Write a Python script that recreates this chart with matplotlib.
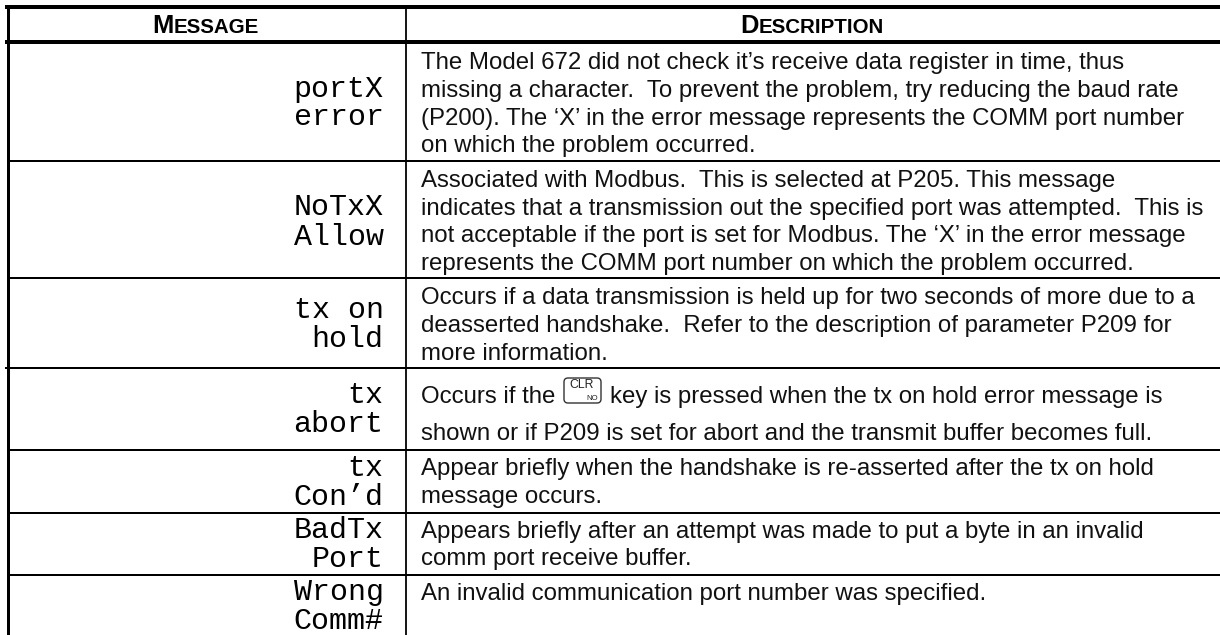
import matplotlib
matplotlib.use("Agg")
import matplotlib.pyplot as plt
from matplotlib.patches import FancyBboxPatch

BODY = "Liberation Sans"
MONO = "Liberation Mono"

messages = [
    ["portX", "error"], ["NoTxX", "Allow"], ["tx on", "hold"], ["tx", "abort"],
    ["tx", "Con\u2019d"], ["BadTx", "Port"], ["Wrong", "Comm#"],
]
message_baselines = [[97, 125], [215, 245], [318, 347], [403, 432], [476, 505], [538, 567], [600, 629]]
descriptions = [
    ["The Model 672 did not check it\u2019s receive data register in time, thus",
     "missing a character.  To prevent the problem, try reducing the baud rate",
     "(P200). The \u2018X\u2019 in the error message represents the COMM port number",
     "on which the problem occurred."],
    ["Associated with Modbus.  This is selected at P205. This message",
     "indicates that a transmission out the specified port was attempted.  This is",
     "not acceptable if the port is set for Modbus. The \u2018X\u2019 in the error message",
     "represents the COMM port number on which the problem occurred."],
    ["Occurs if a data transmission is held up for two seconds of more due to a",
     "deasserted handshake.  Refer to the description of parameter P209 for",
     "more information."],
    ["Occurs if the", "shown or if P209 is set for abort and the transmit buffer becomes full."],
    ["Appear briefly when the handshake is re-asserted after the tx on hold",
     "message occurs."],
    ["Appears briefly after an attempt was made to put a byte in an invalid",
     "comm port receive buffer."],
    ["An invalid communication port number was specified."],
]
description_baselines = [[69, 97, 125, 152], [187, 215, 242, 270], [304, 332, 360],
                         [403, 440], [475, 503], [538, 565], [600]]
key_tail = "key is pressed when the tx on hold error message is"
row_lines = [160.5, 277.5, 367.5, 449.7, 512.5, 575]

fig = plt.figure(figsize=(12.2, 6.35), dpi=100)
ax = fig.add_axes([0, 0, 1, 1])
ax.set_xlim(0, 1220)
ax.set_ylim(635, 0)
ax.axis("off")

px = 0.72
ax.hlines(7, 5, 1220, color="black", lw=4 * px)
ax.hlines(42, 5, 1220, color="black", lw=4 * px)
ax.vlines(7.5, 5, 635, color="black", lw=3 * px)
ax.vlines(406, 7, 635, color="black", lw=1.8 * px)
ax.hlines(row_lines, 7, 1220, color="black", lw=2 * px)
ax.hlines(row_lines[2], 5, 8, color="black", lw=2 * px)


def smallcaps(label, left, baseline):
    big = ax.text(left, baseline, label[0], family=BODY, weight="bold", size=18.4, ha="left", va="baseline")
    r = fig.canvas.get_renderer()
    w1 = big.get_window_extent(r).width
    ax.text(left + w1 + 0.5, baseline, label[1:], family=BODY, weight="bold", size=14.8, ha="left", va="baseline")


smallcaps("MESSAGE", 152, 33)
smallcaps("DESCRIPTION", 740, 33)

for lines, bases in zip(messages, message_baselines):
    for s, b in zip(lines, bases):
        ax.text(383.5, b, s, family=MONO, size=21.6, ha="right", va="baseline", color="#000000")

for lines, bases in zip(descriptions, description_baselines):
    for s, b in zip(lines, bases):
        ax.text(421, b, s, family=BODY, size=17.3, ha="left", va="baseline", color="#111111")

ax.text(610, 403, key_tail, family=BODY, size=17.3, ha="left", va="baseline", color="#111111")
ax.add_patch(FancyBboxPatch((564, 378), 37, 25, boxstyle="round,pad=0,rounding_size=4",
                            fc="white", ec="#333333", lw=1.0))
ax.text(582, 384.5, "CLR", family=BODY, size=8.8, ha="center", va="center", color="#222222")
ax.text(592, 398, "NO", family=BODY, size=5.6, ha="center", va="center", color="#222222")

fig.savefig("out.png", dpi=100)
